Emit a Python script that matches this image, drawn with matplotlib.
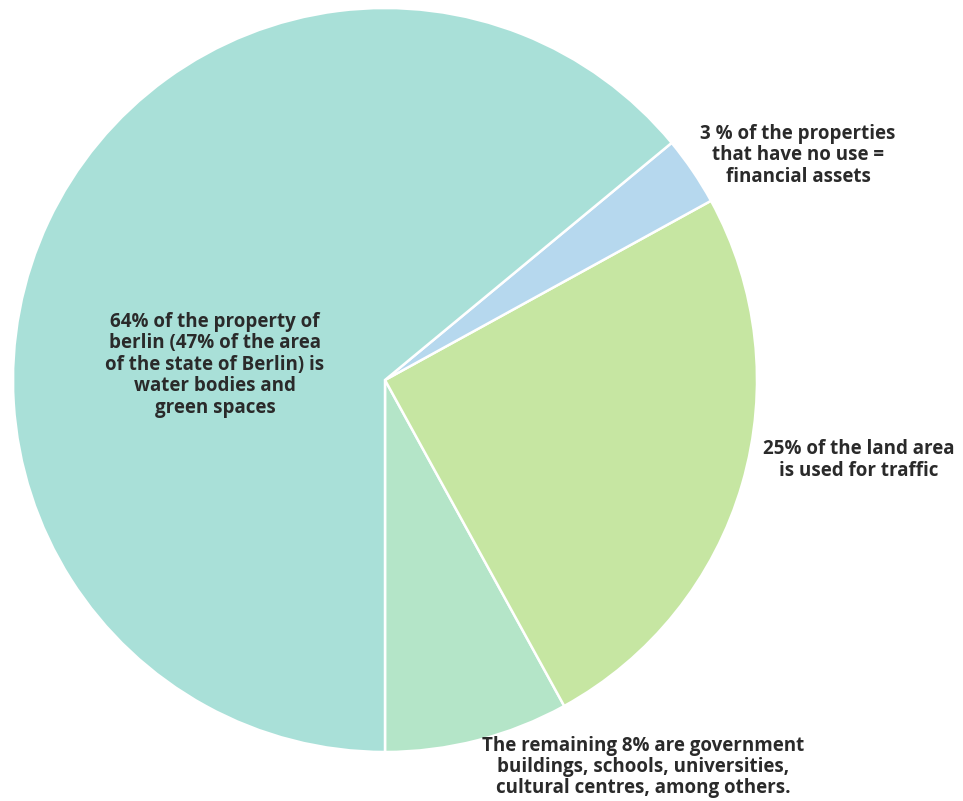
import matplotlib
matplotlib.use("Agg")
import matplotlib.pyplot as plt

# slice shares, listed counter-clockwise starting from the bottom of the pie
shares = [8, 25, 3, 64]
colors = ["#b4e5c8", "#c6e6a2", "#b6d8ee", "#a9e0d8"]

labels = [
    "The remaining 8% are government\nbuildings, schools, universities,\ncultural centres, among others.",
    "25% of the land area\nis used for traffic",
    "3 % of the properties\nthat have no use =\nfinancial assets",
    "64% of the property of\nberlin (47% of the area\nof the state of Berlin) is\nwater bodies and\ngreen spaces",
]

W, H = 963, 801
cx, cy, r = 385, 380, 372


def to_data(px, py):
    return (px - cx) / r, (cy - py) / r


fig = plt.figure(figsize=(W / 100, H / 100), dpi=100)
ax = fig.add_axes([0, 0, 1, 1])

ax.pie(shares, colors=colors, startangle=-90, counterclock=True, radius=1,
       wedgeprops=dict(edgecolor="white", linewidth=1.8))
ax.set_xlim(-cx / r, (W - cx) / r)
ax.set_ylim(-(H - cy) / r, cy / r)
ax.axis("off")

# label positions in pixels (centre of each text block)
label_px = [(643, 767), (859, 460), (798, 155), (215, 365)]
for text, (px, py) in zip(labels, label_px):
    x, y = to_data(px, py)
    ax.text(x, y, text, ha="center", va="center", fontsize=13.5,
            fontweight="bold", family="Open Sans", color="#2a2a2a",
            linespacing=1.1)

fig.savefig("out.png", dpi=100)
